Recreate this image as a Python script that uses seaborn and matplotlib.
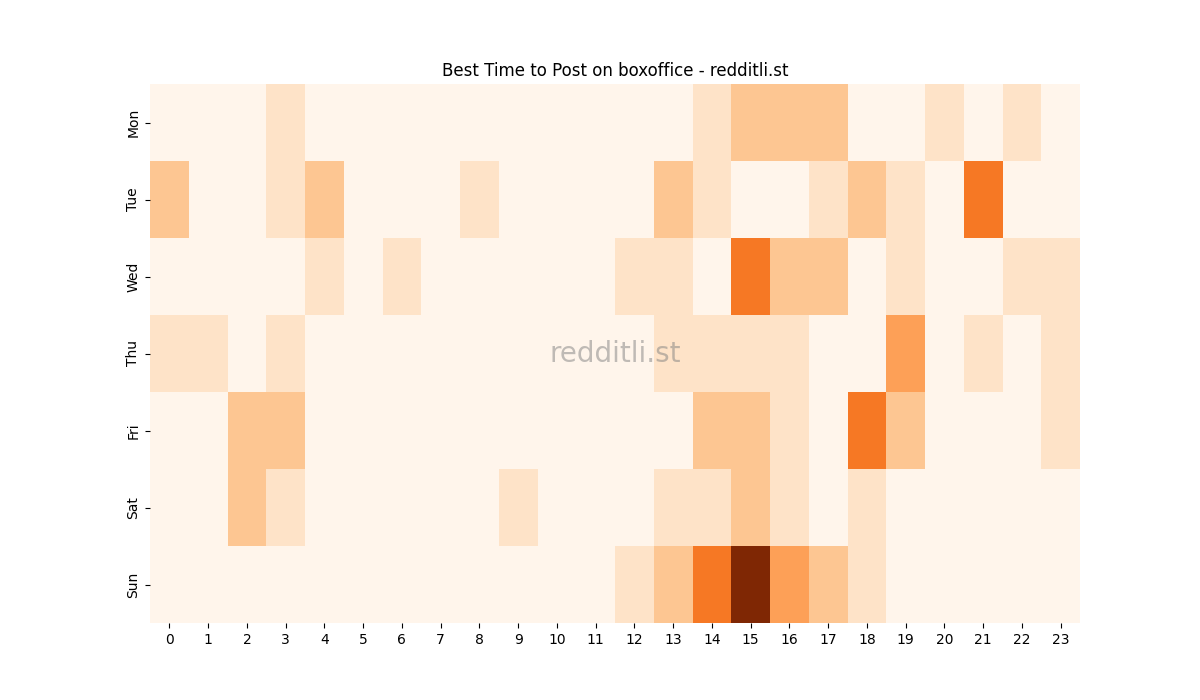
import numpy as np
import pandas as pd
import matplotlib
matplotlib.use('Agg')
import matplotlib.pyplot as plt
import seaborn as sns

# ========== data ==========
days = ['Mon', 'Tue', 'Wed', 'Thu', 'Fri', 'Sat', 'Sun']
hours = list(range(24))

mon = [0, 0, 0, 1, 0, 0, 0, 0, 0, 0, 0, 0, 0, 0, 1, 2, 2, 2, 0, 0, 1, 0, 1, 0]
tue = [2, 0, 0, 1, 2, 0, 0, 0, 1, 0, 0, 0, 0, 2, 1, 0, 0, 1, 2, 1, 0, 4, 0, 0]
wed = [0, 0, 0, 0, 1, 0, 1, 0, 0, 0, 0, 0, 1, 1, 0, 4, 2, 2, 0, 1, 0, 0, 1, 1]
thu = [1, 1, 0, 1, 0, 0, 0, 0, 0, 0, 0, 0, 0, 1, 1, 1, 1, 0, 0, 3, 0, 1, 0, 1]
fri = [0, 0, 2, 2, 0, 0, 0, 0, 0, 0, 0, 0, 0, 0, 2, 2, 1, 0, 4, 2, 0, 0, 0, 1]
sat = [0, 0, 2, 1, 0, 0, 0, 0, 0, 1, 0, 0, 0, 1, 1, 2, 1, 0, 1, 0, 0, 0, 0, 0]
sun = [0, 0, 0, 0, 0, 0, 0, 0, 0, 0, 0, 0, 1, 2, 4, 7, 3, 2, 1, 0, 0, 0, 0, 0]

df = pd.DataFrame([mon, tue, wed, thu, fri, sat, sun], index=days, columns=hours)

# ========== plot ==========
fig, ax = plt.subplots(figsize=(12, 7), dpi=100)
sns.heatmap(df, cmap='Oranges', cbar=False, ax=ax)
ax.set_title('Best Time to Post on boxoffice - redditli.st')
ax.set_xlabel('')
ax.set_ylabel('')
ax.tick_params(axis='x', rotation=0)
ax.tick_params(axis='y', rotation=90)
ax.text(0.5, 0.5, 'redditli.st', transform=ax.transAxes, ha='center', va='center',
        fontsize=20, color='gray', alpha=0.5)

plt.savefig('out.png', dpi=100)
